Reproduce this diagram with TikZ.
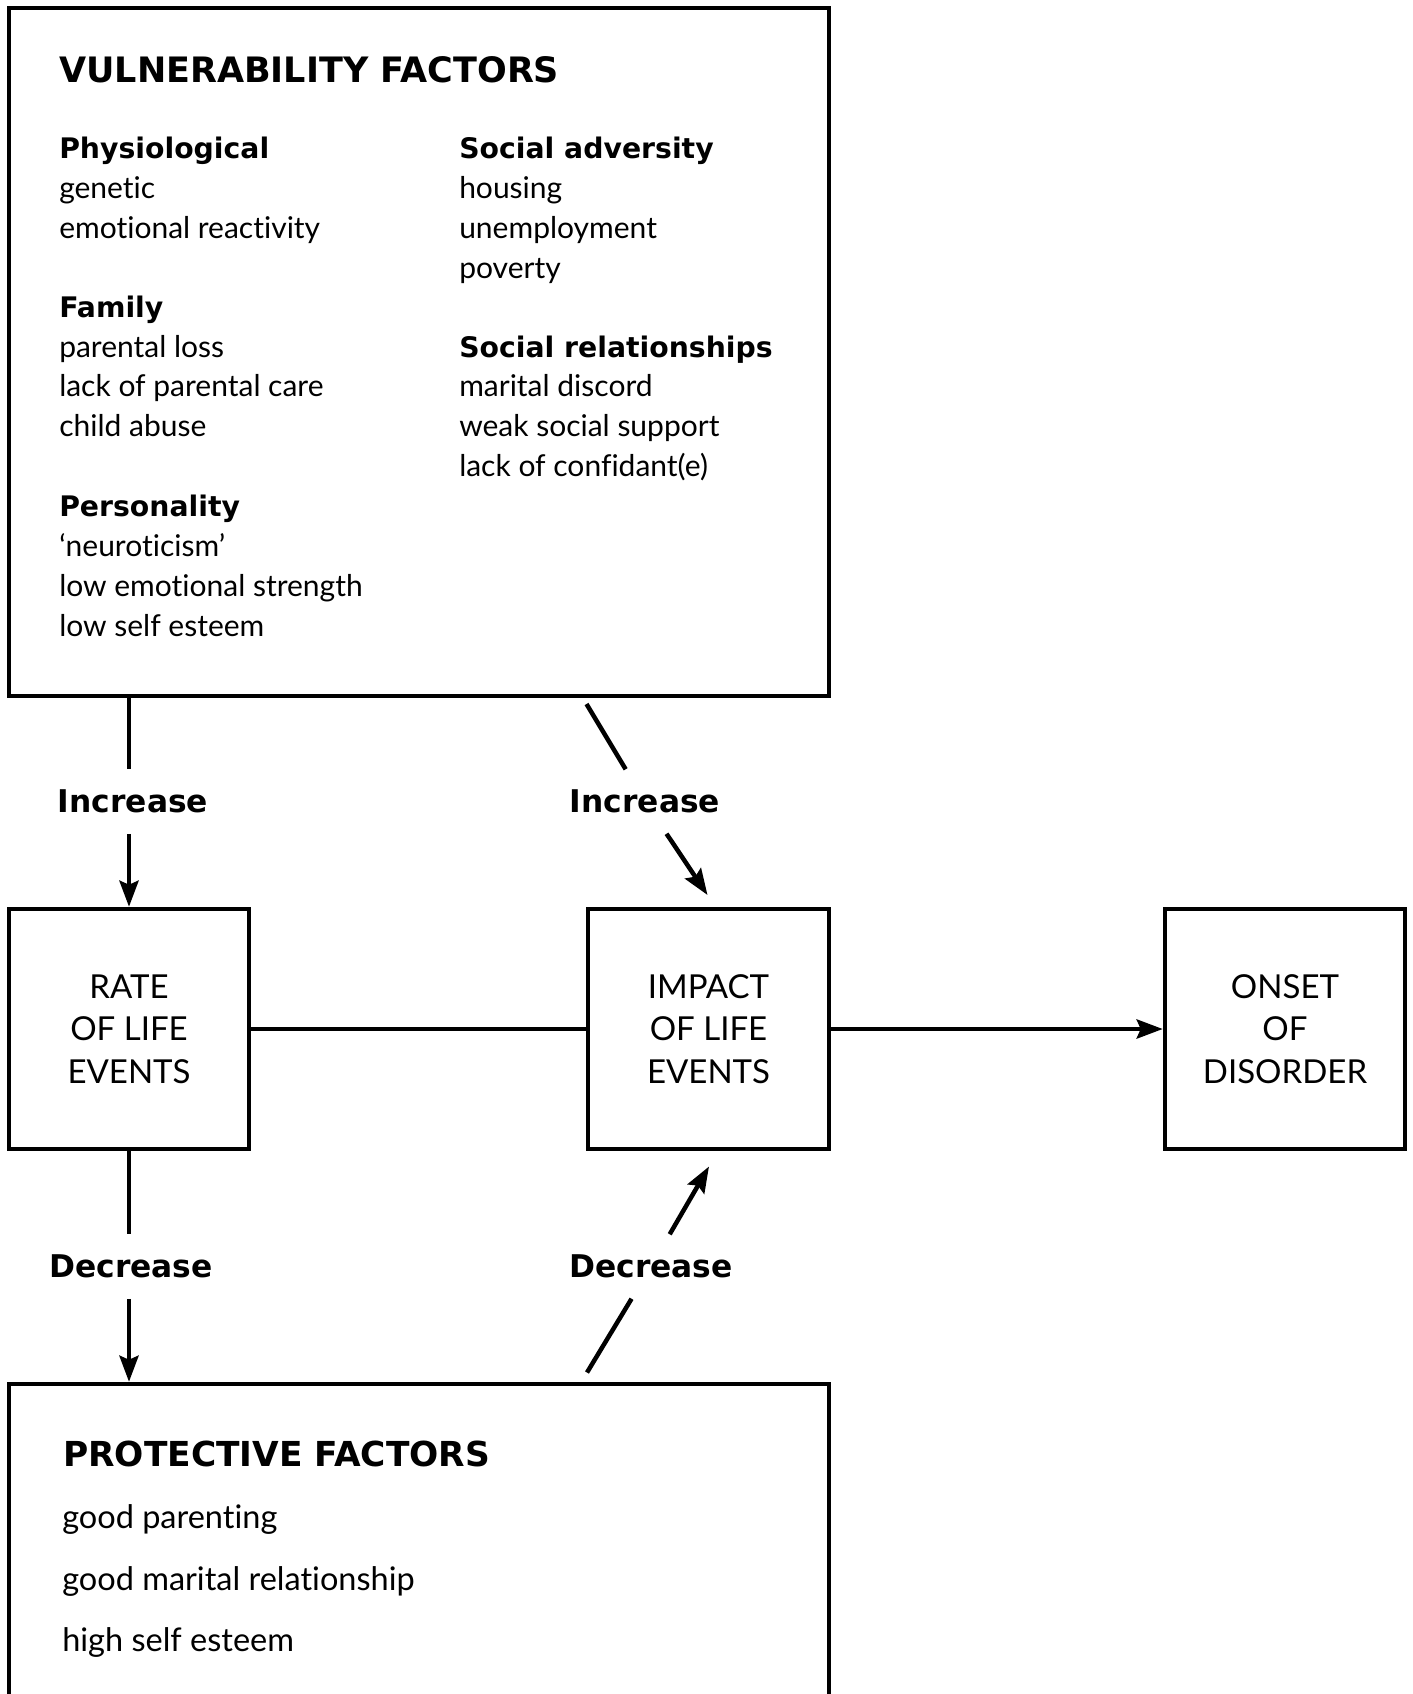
\documentclass[tikz,border=0pt]{standalone}
\usepackage{fontspec}
\setmainfont{Lato}[Ligatures=NoCommon]
\newfontfamily\headfont{DejaVu Sans}
\usetikzlibrary{arrows.meta}
\begin{document}
\begin{tikzpicture}[x=1pt,y=-1pt,
  line width=4.5pt,
  box/.style={draw, line width=4.5pt, inner sep=0pt},
  boxtext/.style={align=center, font=\fontsize{33}{42.5}\selectfont},
  arr/.style={-{Stealth[length=26pt,width=19pt,inset=4pt]}},
  body/.style={anchor=base west, inner sep=0pt, font=\fontsize{30}{36}\selectfont},
  bigbody/.style={anchor=base west, inner sep=0pt, font=\fontsize{32.5}{38}\selectfont},
  head/.style={anchor=base west, inner sep=0pt, font=\headfont\bfseries\fontsize{28.3}{34}\selectfont},
  title/.style={anchor=base west, inner sep=0pt, font=\headfont\bfseries\fontsize{35}{40}\selectfont},
  cue/.style={font=\headfont\bfseries\fontsize{31.3}{36}\selectfont, text height=22pt, text depth=0pt, inner xsep=4pt, inner ysep=19pt}]
\useasboundingbox (0,0) rectangle (1413,1694);
\clip (0,0) rectangle (1413,1694);

% boxes
\node[box, minimum width=820pt, minimum height=688pt] (vul) at (419,352) {};
\node[box, minimum width=820pt, minimum height=416pt] (prot) at (419,1592) {};
\node[box, boxtext, minimum width=240pt, minimum height=240pt] (rate) at (129,1029) {RATE\\OF LIFE\\EVENTS};
\node[box, boxtext, minimum width=241pt, minimum height=240pt] (impact) at (708.5,1029) {IMPACT\\OF LIFE\\EVENTS};
\node[box, boxtext, minimum width=240pt, minimum height=240pt] (onset) at (1285,1029) {ONSET\\OF\\DISORDER};

% vulnerability text
\node[title] (vt) at (57,82) {VULNERABILITY FACTORS};
\node[head] (h1) at (57,158) {Physiological};
\node[body] (a1) at (57,198) {genetic};
\node[body] (a2) at (57,238) {emotional reactivity};
\node[head] (h2) at (57,317) {Family};
\node[body] (b1) at (57,357) {parental loss};
\node[body] (b2) at (57,396) {lack of parental care};
\node[body] (b3) at (57,436) {child abuse};
\node[head] (h3) at (57,516) {Personality};
\node[body] (c1) at (57,556) {‘neuroticism’};
\node[body] (c2) at (57,596) {low emotional strength};
\node[body] (c3) at (57,636) {low self esteem};
\node[head] (h4) at (457,158) {Social adversity};
\node[body] (d1) at (457,198) {housing};
\node[body] (d2) at (457,238) {unemployment};
\node[body] (d3) at (457,278) {poverty};
\node[head] (h5) at (457,357) {Social relationships};
\node[body] (e1) at (457,396) {marital discord};
\node[body] (e2) at (457,436) {weak social support};
\node[body] (e3) at (457,476) {lack of confidant(e)};

% protective text
\node[title, font=\headfont\bfseries\fontsize{34.4}{40}\selectfont] (pt) at (61,1466) {PROTECTIVE FACTORS};
\node[bigbody] (p1) at (60,1528) {good parenting};
\node[bigbody] (p2) at (60,1590) {good marital relationship};
\node[bigbody] (p3) at (60,1651) {high self esteem};

% cue labels
\node[cue] (incL) at (133,801.5) {Increase};
\node[cue] (incR) at (645,801.5) {Increase};
\node[cue] (decL) at (131,1266.5) {Decrease};
\node[cue] (decR) at (651,1266.5) {Decrease};

\coordinate (s1) at (586.5,704);
\coordinate (t1) at (707.5,895);
\coordinate (s2) at (587,1372.5);
\coordinate (t2) at (709,1166.5);

% connectors
\draw (vul.south -| rate.north) -- (incL.north -| rate.north);
\draw[arr] (incL.south -| rate.north) -- (rate.north);
\draw (s1) -- (incR);
\draw[arr] (incR) -- (t1);
\draw (rate.south) -- (decL.north -| rate.south);
\draw[arr] (decL.south -| rate.south) -- (prot.north -| rate.south);
\draw (s2) -- (decR);
\draw[arr] (decR) -- (t2);
\draw (rate) -- (impact);
\draw[arr] (impact) -- (onset);
\end{tikzpicture}
\end{document}
